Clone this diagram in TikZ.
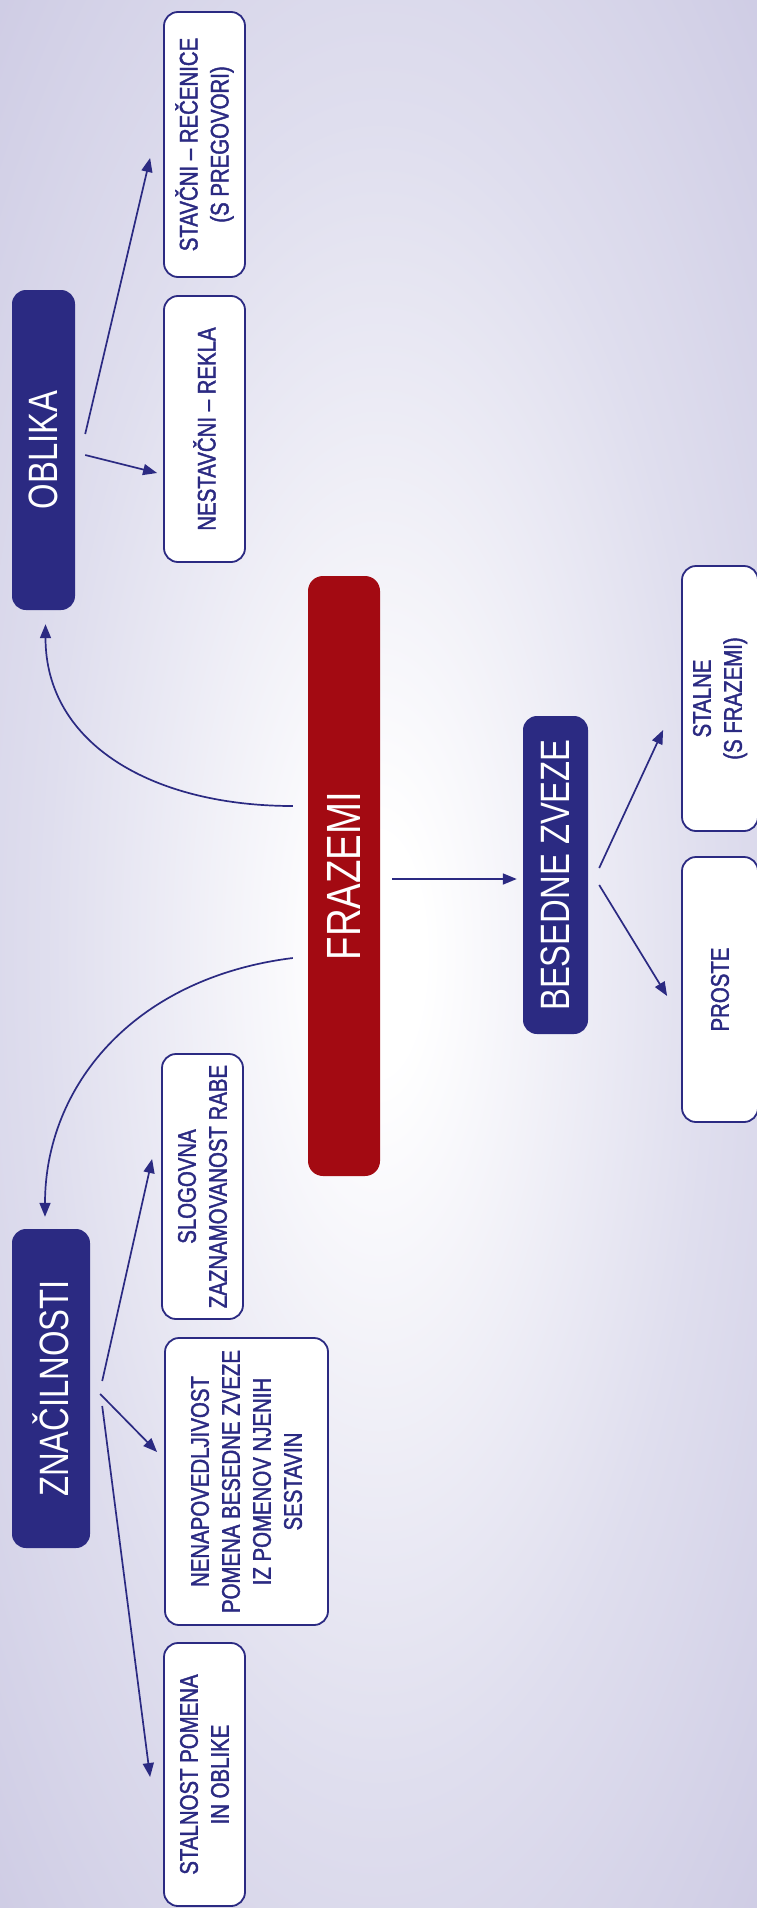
\documentclass[tikz,border=0pt]{standalone}
\usepackage{fontspec}
\setmainfont{Liberation Sans}[FakeStretch=0.8]
\newfontfamily\leaffont{Liberation Sans}[FakeStretch=0.8,FakeBold=1.6]
\usetikzlibrary{arrows.meta,calc}

\definecolor{navy}{HTML}{2B2A82}
\definecolor{frazred}{HTML}{A30A12}
\definecolor{bgmid}{HTML}{DFDEEE}
\definecolor{bgedge}{HTML}{C7C4E0}
\pgfdeclareradialshading{glow}{\pgfpoint{0bp}{0bp}}{color(0bp)=(white); color(3bp)=(white); color(22bp)=(bgmid); color(42bp)=(bgedge)}

\begin{document}
\begin{tikzpicture}[x=1pt,y=-1pt]
    \tikzstyle{centre}=[fill=frazred,text=white,rounded corners=15pt,rotate=90,inner sep=0pt,
                        font=\fontsize{48}{52}\selectfont]
    \tikzstyle{head}=[fill=navy,text=white,rounded corners=14pt,rotate=90,inner sep=0pt,
                      font=\fontsize{41}{45}\selectfont]
    \tikzstyle{leaf}=[fill=white,draw=navy,line width=1.8pt,rounded corners=14pt,text=navy,
                      rotate=90,inner sep=0pt,align=center,font=\leaffont\fontsize{25.5}{31}\selectfont]
    \tikzstyle{arr}=[draw=navy,line width=1.7pt,-{Triangle[length=14pt,width=11pt]}]
    \shade[shading=glow] (0,0) rectangle (757,1908);
    \useasboundingbox (0,0) rectangle (757,1908);
    % middle
    \node[centre,minimum width=600,minimum height=72] (frazemi) at (344,876) {FRAZEMI};
    % upper branch
    \node[head,minimum width=320,minimum height=63] (oblika) at (43.5,450) {OBLIKA};
    \node[leaf,minimum width=265,minimum height=81] (stavcni) at (204.5,144.5) {STAVČNI – REČENICE\\(S PREGOVORI)};
    \node[leaf,minimum width=266,minimum height=81] (nestavcni) at (204.5,429) {NESTAVČNI – REKLA};
    % right branch
    \node[head,minimum width=318,minimum height=65] (besedne) at (555.5,875) {BESEDNE ZVEZE};
    \node[leaf,minimum width=265,minimum height=76] (stalne) at (720,698.5) {STALNE\\(S FRAZEMI)};
    \node[leaf,minimum width=265,minimum height=76] (proste) at (720,989.5) {PROSTE};
    % lower branch
    \node[head,minimum width=319,minimum height=78] (znacilnosti) at (51,1388.5) {ZNAČILNOSTI};
    \node[leaf,minimum width=265,minimum height=81] (slogovna) at (202.5,1186.5) {SLOGOVNA\\ZAZNAMOVANOST RABE};
    \node[leaf,minimum width=287,minimum height=163] (nenapoved) at (246.5,1481.5) {NENAPOVEDLJIVOST\\POMENA BESEDNE ZVEZE\\IZ POMENOV NJENIH\\SESTAVIN};
    \node[leaf,minimum width=263,minimum height=81] (stalnost) at (204.5,1774.5) {STALNOST POMENA\\IN OBLIKE};

    \draw[arr] ($(frazemi.north)+(-15,-70)$) .. controls +(-140,0) and +(0,120) .. ($(oblika.west)+(2,14)$);
    \draw[arr] ($(frazemi.north)+(-15,82)$) .. controls +(-160,20) and +(0,-130) .. ($(znacilnosti.east)+(-6,-12)$);
    \draw[arr] ($(frazemi.south)+(12,3)$) -- ($(besedne.north)+(-6,4)$);
    \draw[arr] ($(oblika.south)+(10,-16)$) -- ($(stavcni.north)+(-13,13.5)$);
    \draw[arr] ($(oblika.south)+(10,5)$) -- ($(nestavcni.north)+(-6,44)$);
    \draw[arr] ($(besedne.south)+(11,-7)$) -- ($(stalne.north)+(-18,31.5)$);
    \draw[arr] ($(besedne.south)+(11,10)$) -- ($(proste.north)+(-14,6.5)$);
    \draw[arr] ($(znacilnosti.south)+(12,-7.5)$) -- ($(slogovna.north)+(-9,-27.5)$);
    \draw[arr] ($(znacilnosti.south)+(10,5.5)$) -- ($(nenapoved.north)+(-7,-29.5)$);
    \draw[arr] ($(znacilnosti.south)+(12,17.5)$) -- ($(stalnost.north)+(-13,2.5)$);
\end{tikzpicture}
\end{document}
